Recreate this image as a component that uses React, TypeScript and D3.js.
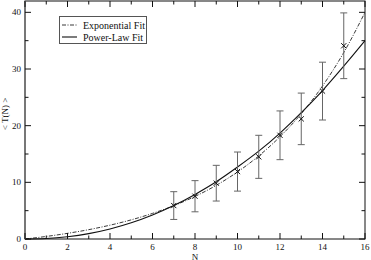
import React from "react";
import * as d3 from "d3";

const dataN = [7, 8, 9, 10, 11, 12, 13, 14, 15];
const dataMean = [5.9, 7.55, 9.85, 11.9, 14.5, 18.3, 21.2, 26.1, 34.1];
const dataErr = [2.45, 2.75, 3.15, 3.45, 3.8, 4.3, 4.55, 5.1, 5.8];

const fitN = [0, 1, 2, 3, 4, 5, 6, 7, 8, 9, 10, 11, 12, 13, 14, 15, 16];
const expFit = [0, 0.45, 1.0, 1.65, 2.44, 3.38, 4.52, 5.88, 7.51, 9.47, 11.83, 14.66, 18.05, 22.1, 27.0, 32.9, 40.0];
const powFit = [0, 0.09, 0.4, 0.95, 1.77, 2.86, 4.24, 5.9, 7.87, 10.1, 12.7, 15.5, 18.7, 22.3, 26.2, 30.5, 35.0];

const xTicks = [0, 2, 4, 6, 8, 10, 12, 14, 16];
const xMinor = [1, 3, 5, 7, 9, 11, 13, 15];
const yTicks = [0, 10, 20, 30, 40];
const yMinor = [5, 15, 25, 35];

const legendLabels = ["Exponential Fit", "Power-Law Fit"];

export default function App() {
  const W = 371, H = 260;
  const L = 25, R = 365, T = 1, B = 239;
  const x = d3.scaleLinear().domain([0, 16]).range([L, R]);
  const y = d3.scaleLinear().domain([0, 42]).range([B, T]);
  const font = "'Liberation Serif', 'DejaVu Serif', serif";

  const line = d3
    .line<number>()
    .x((_, i) => x(fitN[i]))
    .y((d) => y(d))
    .curve(d3.curveMonotoneX);

  const major = 6, minor = 3.5;

  return (
    <svg width={W} height={H} style={{ position: "absolute", left: 0, top: 0, background: "#fff" }}>
      <rect x={0} y={0} width={W} height={H} fill="#fff" />
      {/* curves */}
      <path d={line(expFit) || ""} fill="none" stroke="#222" strokeWidth={0.9} strokeDasharray="4,1.5,1,1.5" />
      <path d={line(powFit) || ""} fill="none" stroke="#111" strokeWidth={1.1} />
      {/* error bars */}
      {dataN.map((n, i) => {
        const cx = x(n);
        const y1 = y(dataMean[i] + dataErr[i]);
        const y2 = y(dataMean[i] - dataErr[i]);
        return (
          <g key={"e" + i} stroke="#666" strokeWidth={1}>
            <line x1={cx} x2={cx} y1={y1} y2={y2} />
            <line x1={cx - 3.5} x2={cx + 3.5} y1={y1} y2={y1} />
            <line x1={cx - 3.5} x2={cx + 3.5} y1={y2} y2={y2} />
          </g>
        );
      })}
      {/* markers */}
      {dataN.map((n, i) => {
        const cx = x(n), cy = y(dataMean[i]);
        const s = 2.6;
        return (
          <g key={"m" + i} stroke="#111" strokeWidth={1}>
            <line x1={cx - s} x2={cx + s} y1={cy - s} y2={cy + s} />
            <line x1={cx - s} x2={cx + s} y1={cy + s} y2={cy - s} />
          </g>
        );
      })}
      {/* frame */}
      <rect x={L} y={T} width={R - L} height={B - T} fill="none" stroke="#111" strokeWidth={1} />
      <line x1={L} x2={L} y1={T} y2={B} stroke="#777" strokeWidth={2} />
      {/* x ticks */}
      {xTicks.map((t) => (
        <g key={"xt" + t} stroke="#111" strokeWidth={1}>
          <line x1={x(t)} x2={x(t)} y1={B} y2={B - major} />
          <line x1={x(t)} x2={x(t)} y1={T} y2={T + major} />
        </g>
      ))}
      {xMinor.map((t) => (
        <g key={"xm" + t} stroke="#111" strokeWidth={1}>
          <line x1={x(t)} x2={x(t)} y1={B} y2={B - minor} />
          <line x1={x(t)} x2={x(t)} y1={T} y2={T + minor} />
        </g>
      ))}
      {yTicks.map((t) => (
        <g key={"yt" + t} stroke="#111" strokeWidth={1}>
          <line x1={L} x2={L + major} y1={y(t)} y2={y(t)} />
          <line x1={R} x2={R - major} y1={y(t)} y2={y(t)} />
        </g>
      ))}
      {yMinor.map((t) => (
        <g key={"ym" + t} stroke="#111" strokeWidth={1}>
          <line x1={L} x2={L + minor} y1={y(t)} y2={y(t)} />
          <line x1={R} x2={R - minor} y1={y(t)} y2={y(t)} />
        </g>
      ))}
      {/* tick labels */}
      {xTicks.map((t) => (
        <text key={"xl" + t} x={x(t)} y={249.5} textAnchor="middle" fontFamily={font} fontSize={9} fill="#111">
          {t}
        </text>
      ))}
      {yTicks.map((t) => (
        <text key={"yl" + t} x={21} y={y(t) + 3} textAnchor="end" fontFamily={font} fontSize={9} fill="#111">
          {t}
        </text>
      ))}
      {/* axis titles */}
      <text x={x(8)} y={259.5} textAnchor="middle" fontFamily={font} fontSize={9} fill="#111">
        N
      </text>
      <text
        transform={`translate(8,114) rotate(-90)`}
        textAnchor="middle"
        fontFamily={font}
        fontSize={9}
        fill="#111"
      >
        {"< T(N) >"}
      </text>
      {/* legend */}
      <rect x={59.5} y={16.5} width={87} height={27} fill="#fff" stroke="#555" strokeWidth={1} />
      <line x1={62} x2={77} y1={25} y2={25} stroke="#222" strokeWidth={0.9} strokeDasharray="4,1.5,1,1.5" />
      <line x1={62} x2={77} y1={37} y2={37} stroke="#111" strokeWidth={1.1} />
      <text x={83} y={28.5} fontFamily={font} fontSize={10} fill="#111">
        {legendLabels[0]}
      </text>
      <text x={83} y={40.5} fontFamily={font} fontSize={10} fill="#111">
        {legendLabels[1]}
      </text>
    </svg>
  );
}
